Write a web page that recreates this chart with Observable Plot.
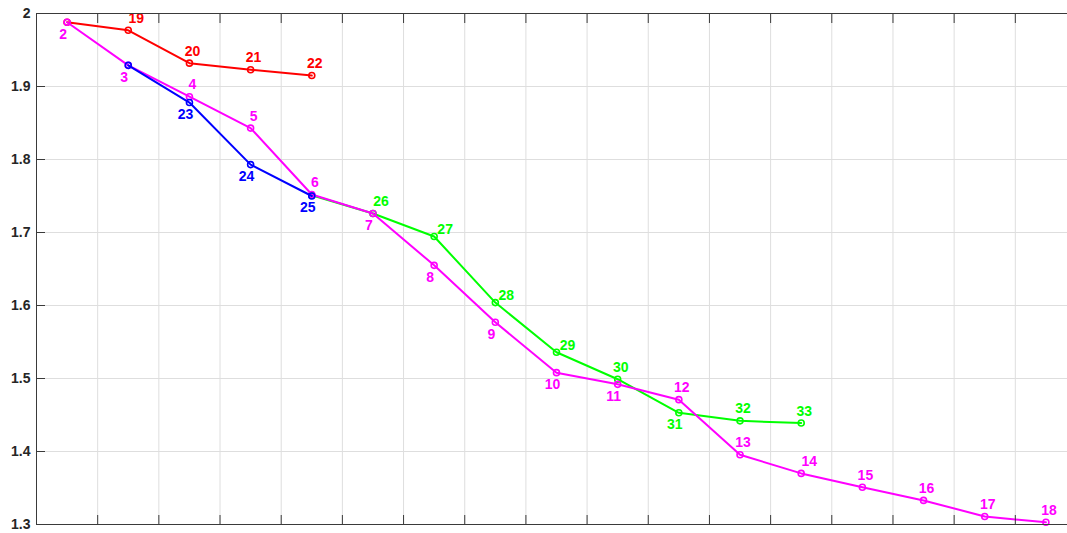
<!DOCTYPE html>
<html><head><meta charset="utf-8">
<script src="https://cdn.jsdelivr.net/npm/d3@7"></script>
<script src="https://cdn.jsdelivr.net/npm/@observablehq/plot@0.6"></script>
<style>
html,body{margin:0;padding:0;background:#fff;overflow:hidden;}
#chart{width:1067px;height:533px;overflow:hidden;}
</style></head><body><div id="chart"></div>
<script>
// ---- data ----
const magentaSteps  = [1,2,3,4,5,6,7,8,9,10,11,12,13,14,15,16,17];
const magentaValues = [1.988,1.929,1.886,1.843,1.752,1.726,1.655,1.577,1.508,1.492,1.471,1.3955,1.370,1.351,1.333,1.311,1.303];
const magentaLabels = ["2","3","4","5","6","7","8","9","10","11","12","13","14","15","16","17","18"];
const magentaPlaces = ["below","below","above","above","above","below","below","below","below","below","above","above","aboveR","above","above","above","above"];

const redSteps  = [1,2,3,4,5];
const redValues = [1.988,1.977,1.932,1.923,1.915];
const redLabels = [null,"19","20","21","22"];
const redPlaces = [null,"aboveR","above","above","above"];

const blueSteps  = [2,3,4,5];
const blueValues = [1.929,1.878,1.793,1.750];
const blueLabels = [null,"23","24","25"];
const bluePlaces = [null,"below","below","below"];

const greenSteps  = [5,6,7,8,9,10,11,12,13];
const greenValues = [1.751,1.726,1.6945,1.604,1.536,1.499,1.453,1.442,1.439];
const greenLabels = [null,"26","27","28","29","30","31","32","33"];
const greenPlaces = [null,"aboveR","right","right","right","above","below","above","above"];

const xTicks = [1.5,2.5,3.5,4.5,5.5,6.5,7.5,8.5,9.5,10.5,11.5,12.5,13.5,14.5,15.5,16.5];
const yTicks = [1.3,1.4,1.5,1.6,1.7,1.8,1.9,2];
const yTickLabels = ["1.3","1.4","1.5","1.6","1.7","1.8","1.9","2"];

// ---- build ----
const offsets = {above:[3,-12], aboveR:[8,-12], below:[-4,12], right:[11,-7]};
function rows(steps, values, labels, places){
  return steps.map((s,i)=>({step:s, value:values[i], label:labels[i], place:places[i]}));
}
const series = [
  {color:"#00ff00", data: rows(greenSteps, greenValues, greenLabels, greenPlaces)},
  {color:"#ff0000", data: rows(redSteps, redValues, redLabels, redPlaces)},
  {color:"#ff00ff", data: rows(magentaSteps, magentaValues, magentaLabels, magentaPlaces)},
  {color:"#0000ff", data: rows(blueSteps, blueValues, blueLabels, bluePlaces)}
];

const marks = [
  Plot.gridX({ticks: xTicks, stroke:"#dedede", strokeOpacity:1}),
  Plot.gridY({ticks: yTicks, stroke:"#dedede", strokeOpacity:1}),
];
for (const s of series) {
  marks.push(Plot.line(s.data, {x:"step", y:"value", stroke:s.color, strokeWidth:2}));
  marks.push(Plot.dot(s.data, {x:"step", y:"value", stroke:s.color, r:3, strokeWidth:1.6, fill:"none"}));
}
for (const s of series) {
  for (const [key,[dx,dy]] of Object.entries(offsets)) {
    const d = s.data.filter(r => r.label && r.place === key);
    if (d.length) marks.push(Plot.text(d, {x:"step", y:"value", text:"label", fill:s.color, dx, dy,
      fontSize:14, fontWeight:"bold"}));
  }
}
marks.push(
  Plot.frame({stroke:"#3a3a3a", strokeWidth:1}),
  Plot.axisX({anchor:"bottom", ticks:xTicks, tickSize:-9, tickFormat:()=>"", label:null, color:"#3a3a3a"}),
  Plot.axisX({anchor:"top", ticks:xTicks, tickSize:-9, tickFormat:()=>"", label:null, color:"#3a3a3a"}),
  Plot.axisY({anchor:"left", ticks:yTicks, tickSize:-9, tickFormat:()=>"", label:null, color:"#3a3a3a"}),
  Plot.axisY({anchor:"right", ticks:yTicks, tickSize:-9, tickFormat:()=>"", label:null, color:"#3a3a3a"}),
  Plot.axisY({anchor:"left", ticks:yTicks, tickSize:0, tickPadding:6, label:null,
    tickFormat:(d)=>yTickLabels[yTicks.indexOf(d)], fontSize:14, fontWeight:"bold", color:"#262626"})
);

const chart = Plot.plot({
  width:1077, height:533,
  marginTop:13, marginBottom:9, marginLeft:36, marginRight:1,
  x:{domain:[0.5,17.5]},
  y:{domain:[1.3,2]},
  style:{fontFamily:"'Liberation Sans', Arial, sans-serif", background:"#fff", maxWidth:"none", overflow:"hidden"},
  marks
});
document.getElementById("chart").appendChild(chart);
</script></body></html>
